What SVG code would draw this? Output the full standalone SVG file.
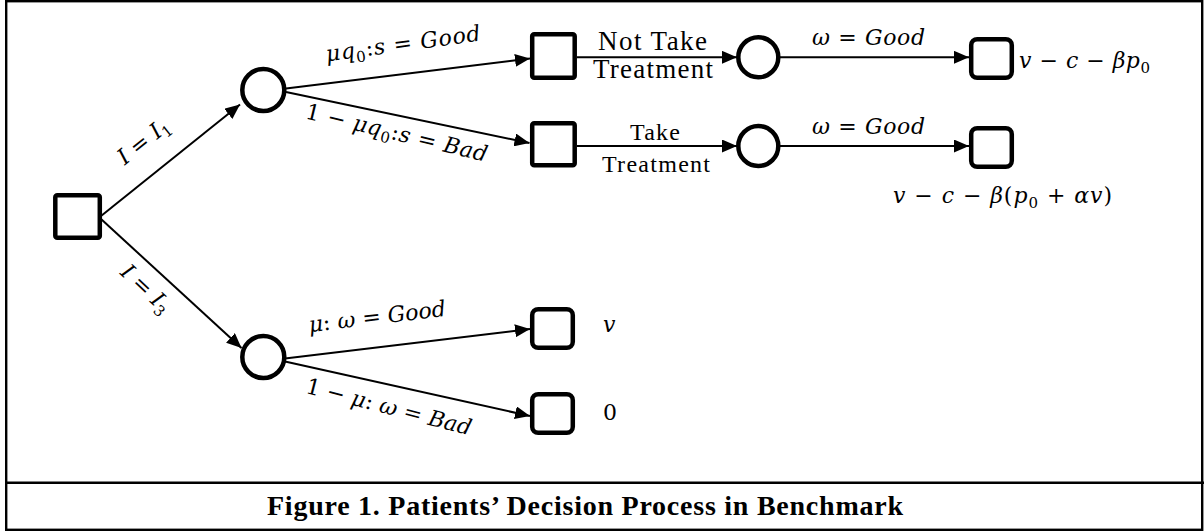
<svg xmlns="http://www.w3.org/2000/svg" width="1204" height="531" viewBox="0 0 1204 531">
<style>
.frame{fill:none;stroke:#000;stroke-width:2.4}
.sq{fill:#fff;stroke:#000;stroke-width:4.5}
.ci{fill:#fff;stroke:#000;stroke-width:4.5}
.edge{fill:none;stroke:#000;stroke-width:2}
.m{font-family:"DejaVu Serif","Liberation Serif",serif;font-size:22px;fill:#000}
.it{font-style:italic}
.t{font-family:"Liberation Serif","Times New Roman",serif;fill:#000}
.cap{font-family:"Liberation Serif",serif;font-weight:bold;font-size:28px;fill:#000}
</style>
<defs>
<marker id="ah" markerUnits="userSpaceOnUse" markerWidth="15" markerHeight="13" refX="15" refY="6.5" orient="auto">
<path d="M0,0 L15,6.5 L0,13 z" fill="#000"/>
</marker>
</defs>
<rect class="frame" x="6.2" y="1.2" width="1196" height="528.6"/>
<line x1="6" y1="482.7" x2="1204" y2="482.7" stroke="#000" stroke-width="2.4"/>

<g id="connectors">
<line class="edge" x1="101" y1="216" x2="240" y2="104.5" marker-end="url(#ah)"/>
<line class="edge" x1="101" y1="219" x2="241.5" y2="348" marker-end="url(#ah)"/>
<line class="edge" x1="286" y1="88.5" x2="530" y2="58.5" marker-end="url(#ah)"/>
<line class="edge" x1="286" y1="92" x2="529.5" y2="143" marker-end="url(#ah)"/>
<line class="edge" x1="577" y1="57.3" x2="737" y2="57.3" marker-end="url(#ah)"/>
<line class="edge" x1="577" y1="146" x2="737" y2="146" marker-end="url(#ah)"/>
<line class="edge" x1="780" y1="57.3" x2="969" y2="57.3" marker-end="url(#ah)"/>
<line class="edge" x1="780" y1="146" x2="969" y2="146" marker-end="url(#ah)"/>
<line class="edge" x1="285" y1="358.5" x2="530" y2="329" marker-end="url(#ah)"/>
<line class="edge" x1="285" y1="361.5" x2="530" y2="416" marker-end="url(#ah)"/>
</g>

<g id="root"><rect class="sq" x="55.3" y="195.3" width="44.5" height="42.5" rx="2"/></g>
<g id="chance1"><circle class="ci" cx="263.3" cy="90" r="21"/></g>
<g id="chance2"><circle class="ci" cx="263.3" cy="357" r="21"/></g>
<g id="decisionGood"><rect class="sq" x="532.2" y="34.3" width="42.5" height="43.5" rx="2"/></g>
<g id="decisionBad"><rect class="sq" x="532.2" y="123.3" width="42.5" height="42" rx="2"/></g>
<g id="chance3"><circle class="ci" cx="758.3" cy="57.3" r="20"/></g>
<g id="chance4"><circle class="ci" cx="758.3" cy="146" r="20"/></g>
<g id="end1"><rect class="sq" x="971.2" y="39.2" width="40.6" height="38.6" rx="6"/></g>
<g id="end2"><rect class="sq" x="971.2" y="128.2" width="40.6" height="38.6" rx="6"/></g>
<g id="end3"><rect class="sq" x="532.2" y="309.2" width="40.6" height="38.6" rx="6"/></g>
<g id="end4"><rect class="sq" x="532.2" y="394.2" width="40.6" height="38.6" rx="6"/></g>

<g id="labels">
<text class="m" transform="translate(148,147) rotate(-38.6)" text-anchor="middle"><tspan class="it">I</tspan> = <tspan class="it">I</tspan><tspan font-size="15" dy="5">1</tspan></text>
<text class="m" transform="translate(141,294) rotate(43)" text-anchor="middle"><tspan class="it">I</tspan> = <tspan class="it">I</tspan><tspan font-size="15" dy="5">3</tspan></text>

<text class="m" transform="translate(404,51) rotate(-7.8)" text-anchor="middle" textLength="156"><tspan class="it">μq</tspan><tspan font-size="15" dy="5">0</tspan><tspan dy="-5">:</tspan><tspan class="it">s</tspan> = <tspan class="it">Good</tspan></text>
<text class="m" transform="translate(395,140) rotate(13.5)" text-anchor="middle" textLength="186">1 − <tspan class="it">μq</tspan><tspan font-size="15" dy="5">0</tspan><tspan dy="-5">:</tspan><tspan class="it">s</tspan> = <tspan class="it">Bad</tspan></text>

<text class="m" transform="translate(378,324) rotate(-6.8)" text-anchor="middle" textLength="138"><tspan class="it">μ</tspan>: <tspan class="it">ω</tspan> = <tspan class="it">Good</tspan></text>
<text class="m" transform="translate(387,414) rotate(14.5)" text-anchor="middle" textLength="170">1 − <tspan class="it">μ</tspan>: <tspan class="it">ω</tspan> = <tspan class="it">Bad</tspan></text>

<text class="t" x="652.5" y="50" font-size="27" text-anchor="middle" textLength="109">Not Take</text>
<text class="t" x="653" y="78" font-size="27" text-anchor="middle" textLength="120">Treatment</text>
<text class="t" x="655" y="140" font-size="24" text-anchor="middle" textLength="50">Take</text>
<text class="t" x="656" y="171.5" font-size="24" text-anchor="middle" textLength="108">Treatment</text>

<text class="m" x="868.5" y="45" text-anchor="middle" textLength="113"><tspan class="it">ω</tspan> = <tspan class="it">Good</tspan></text>
<text class="m" x="868.5" y="133.5" text-anchor="middle" textLength="113"><tspan class="it">ω</tspan> = <tspan class="it">Good</tspan></text>

<text class="m" x="1019" y="68" textLength="131"><tspan class="it">v</tspan> − <tspan class="it">c</tspan> − <tspan class="it">βp</tspan><tspan font-size="15" dy="5">0</tspan></text>
<text class="m" x="893" y="203" textLength="219"><tspan class="it">v</tspan> − <tspan class="it">c</tspan> − <tspan class="it">β</tspan>(<tspan class="it">p</tspan><tspan font-size="15" dy="5">0</tspan><tspan dy="-5"> + </tspan><tspan class="it">αv</tspan>)</text>
<text class="m" x="603" y="332"><tspan class="it">v</tspan></text>
<text class="m" x="603" y="420">0</text>
</g>

<text class="cap" x="267" y="515" textLength="636">Figure 1. Patients’ Decision Process in Benchmark</text>
</svg>
